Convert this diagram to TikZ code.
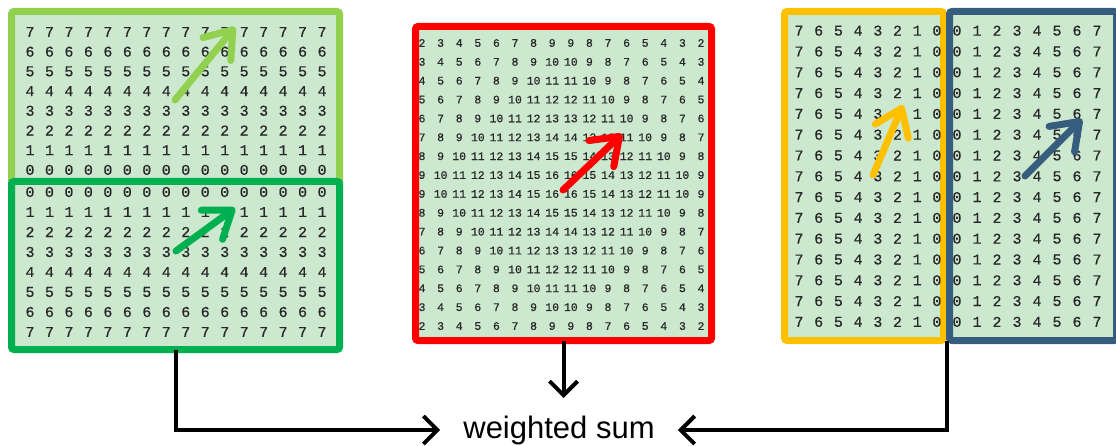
\documentclass[tikz,border=0pt]{standalone}
\usepackage{fontspec}
\setmainfont{Liberation Sans}
\newfontfamily\gridfont[FakeBold=0.6]{Liberation Mono}
\usetikzlibrary{arrows.meta,calc}

\definecolor{cellfill}{RGB}{204,232,207}
\definecolor{rowgreen}{RGB}{146,208,80}
\definecolor{colgreen}{RGB}{0,176,80}
\definecolor{radred}{RGB}{255,0,0}
\definecolor{leftorange}{RGB}{255,192,0}
\definecolor{rightblue}{RGB}{54,93,126}
\definecolor{digit}{RGB}{40,40,40}

\begin{document}
\begin{tikzpicture}[x=1pt,y=-1pt,
  panel/.style={draw=#1, fill=cellfill, line width=7pt, rounded corners=2.5pt,
    inner sep=0pt, outer sep=0pt},
  cell/.style={text=digit, font=\gridfont\fontsize{15}{15}\selectfont, inner sep=0pt},
  smallcell/.style={text=digit, font=\gridfont\fontsize{11.5}{11.5}\selectfont, inner sep=0pt},
  dirarrow/.style={draw=#1, line width=7pt, line cap=round,
    -{Straight Barb[length=25pt,width=36pt,round]}},
  link/.style={draw=black, line width=4pt, -{Straight Barb[length=14pt,width=28pt]}}
]
\useasboundingbox (0,0) rectangle (1116,446);

% ---- rows panel: upper half (values fall 7..0) ----
\node[panel=rowgreen, minimum width=328pt, minimum height=176.5pt] (rowbox) at (175.5,99.75) {};
\foreach \r in {0,...,7}
  \foreach \c in {0,...,15} {
    \pgfmathtruncatemacro{\v}{7-\r}
    \node[cell] (ra-\r-\c) at ({30+19.47*\c},{32+19.7*\r}) {\v};
  }

% ---- rows panel: lower half (values rise 0..7) ----
\node[panel=colgreen, minimum width=328pt, minimum height=168pt] (colbox) at (175.5,265.5) {};
\foreach \r in {0,...,7}
  \foreach \c in {0,...,15} {
    \node[cell] (rb-\r-\c) at ({30+19.47*\c},{192+20*\r}) {\r};
  }

% ---- radial panel: a(r)+a(c) ----
\node[panel=radred, minimum width=296pt, minimum height=314pt] (radbox) at (563.5,183.5) {};
\foreach \r in {0,...,15}
  \foreach \c in {0,...,15} {
    \pgfmathtruncatemacro{\ar}{\r<8 ? \r+1 : 16-\r}
    \pgfmathtruncatemacro{\ac}{\c<8 ? \c+1 : 16-\c}
    \pgfmathtruncatemacro{\v}{\ar+\ac}
    \node[smallcell] (m-\r-\c) at ({422+18.6*\c},{43+18.87*\r}) {\v};
  }

% ---- columns panel: left half (7..0) ----
\node[panel=leftorange, minimum width=159pt, minimum height=329pt] (obox) at (864,176) {};
\foreach \r in {0,...,14}
  \foreach \c in {0,...,7} {
    \pgfmathtruncatemacro{\v}{7-\c}
    \node[cell] (oa-\r-\c) at ({799+19.7*\c},{30.7+20.8*\r}) {\v};
  }

% ---- columns panel: right half (0..7) ----
\node[panel=rightblue, minimum width=167pt, minimum height=329pt] (bbox) at (1033,176) {};
\foreach \r in {0,...,14}
  \foreach \c in {0,...,7} {
    \node[cell] (ba-\r-\c) at ({957+20*\c},{30.7+20.8*\r}) {\c};
  }

% ---- direction arrows ----
\coordinate (g1s) at (175,100);  \coordinate (g1e) at (235,27);
\coordinate (g2s) at (176,251);  \coordinate (g2e) at (235,208);
\coordinate (r1s) at (563,190);  \coordinate (r1e) at (622,134);
\coordinate (o1s) at (873,175);  \coordinate (o1e) at (903,105);
\coordinate (b1s) at (1025,176); \coordinate (b1e) at (1082,119);
\draw[dirarrow=rowgreen]   (g1s) -- (g1e);
\draw[dirarrow=colgreen]   (g2s) -- (g2e);
\draw[dirarrow=radred]     (r1s) -- (r1e);
\draw[dirarrow=leftorange] (o1s) -- (o1e);
\draw[dirarrow=rightblue]  (b1s) -- (b1e);

% ---- combination ----
\node[font=\fontsize{31}{31}\selectfont, inner xsep=23pt, inner ysep=0pt] (sum) at (559,430) {weighted sum};
\coordinate (midtip) at (563.5,398);
\coordinate (split) at ($(obox.south east)!0.5!(bbox.south west)$);

\draw[link] (colbox.south) |- (sum.west);
\draw[link] (radbox.south) -- (midtip);
\draw[link] (split) |- (sum.east);
\end{tikzpicture}
\end{document}
